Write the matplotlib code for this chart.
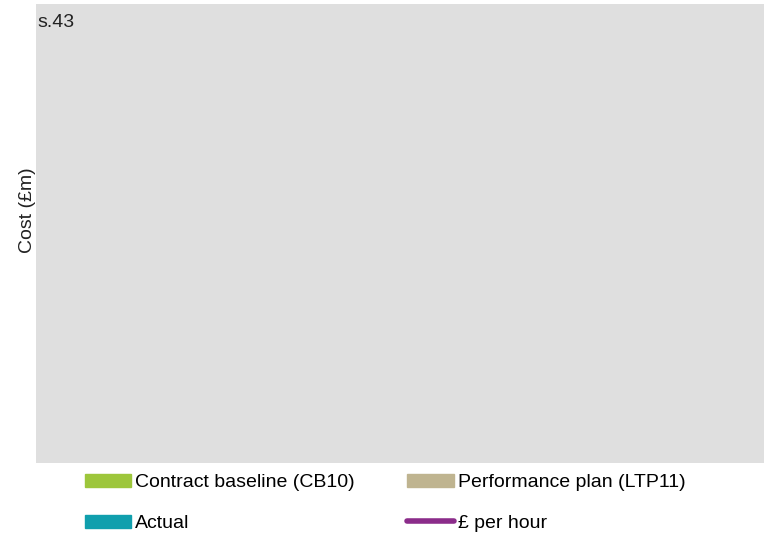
import matplotlib.pyplot as plt
from matplotlib.patches import Patch
from matplotlib.lines import Line2D

plt.rcParams['font.family'] = ['Liberation Sans', 'DejaVu Sans']

# the reference shows an empty plot area: no values are drawn
years = []
cb10 = []
ltp11 = []
actual = []
per_hour = []

series_names = ["Contract baseline (CB10)", "Performance plan (LTP11)", "Actual", "£ per hour"]
series_colors = ["#9dc63b", "#bfb490", "#109fad", "#8b2c8a"]

fig = plt.figure(figsize=(7.64, 5.33), dpi=100)
ax = fig.add_axes([36 / 764, 1 - 463 / 533, 1 - 36 / 764, 459 / 533])
ax.set_facecolor("#dfdfdf")
for s in ax.spines.values():
    s.set_visible(False)
ax.set_xticks([])
ax.set_yticks([])

ax.bar(years, cb10, color=series_colors[0])
ax.bar(years, ltp11, color=series_colors[1])
ax.bar(years, actual, color=series_colors[2])
ax.plot(years, per_hour, color=series_colors[3], linewidth=4)

ax.text(0.002, 0.96, "s.43", transform=ax.transAxes, fontsize=14,
        ha="left", va="center", color="#222222")

fig.text(27 / 764, 1 - 210 / 533, "Cost (£m)", rotation=90, fontsize=14,
         ha="center", va="center", color="#222222")

handles = [
    Patch(color=series_colors[0]),
    Patch(color=series_colors[2]),
    Patch(color=series_colors[1]),
    Line2D([], [], color=series_colors[3], linewidth=4, solid_capstyle="round"),
]
labels = [series_names[0], series_names[2], series_names[1], series_names[3]]
fig.legend(handles, labels, ncol=2, frameon=False, fontsize=14,
           loc="upper left", bbox_to_anchor=(77 / 764, 1 - 466 / 533),
           handlelength=2.4, handleheight=0.65, handletextpad=0.2,
           labelspacing=1.22, columnspacing=2.7, borderaxespad=0)

plt.savefig("out.png", dpi=100)
plt.close()
